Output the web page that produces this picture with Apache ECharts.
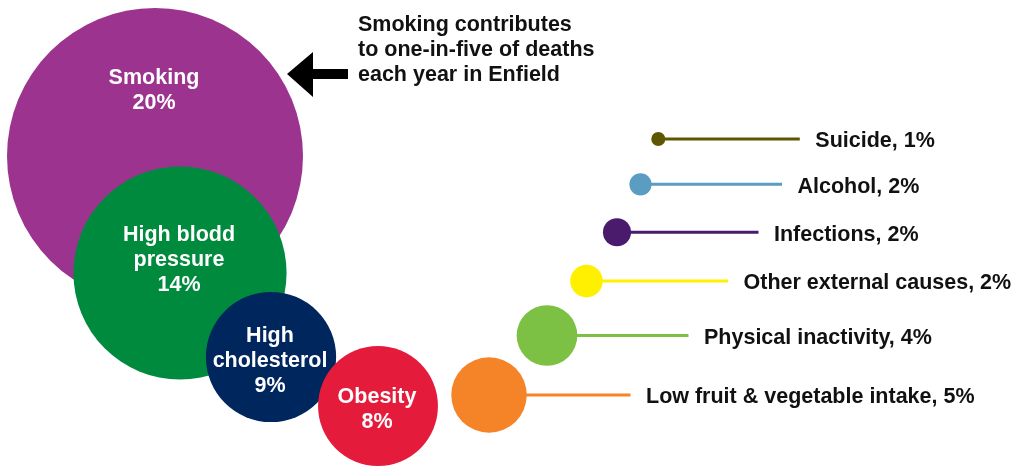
<!DOCTYPE html>
<html>
<head>
<meta charset="utf-8">
<script src="https://cdn.jsdelivr.net/npm/echarts@6/dist/echarts.min.js"></script>
<style>
html,body{margin:0;padding:0;background:#fff;}
#chart{width:1014px;height:467px;}
</style>
</head>
<body>
<div id="chart"></div>
<script>
// ---- data ----
const categories = ['Smoking', 'High blodd\npressure', 'High\ncholesterol', 'Obesity',
  'Low fruit & vegetable intake', 'Physical inactivity', 'Other external causes',
  'Infections', 'Alcohol', 'Suicide'];
const values = [20, 14.4, 8.8, 8.1, 5.1, 4.1, 2.2, 1.9, 1.5, 0.95]; // % of deaths
const annotation = 'Smoking contributes\nto one-in-five of deaths\neach year in Enfield';

// ---- layout & style (kept apart from data) ----
const colors = ['#9C348F', '#008A3E', '#00265E', '#E41B3A', '#F58428',
  '#7CC143', '#FFEF00', '#4A1A6C', '#5B9CC1', '#5E5700'];
const layoutX = [155, 180, 271, 378, 489, 547, 586.5, 617, 640.5, 658.3];
const layoutY = [156, 273, 357, 406, 395, 335.5, 281, 232.3, 184.3, 139];
const innerLabel = [true, true, true, true, false, false, false, false, false, false];
const innerLabelDy = [-65, -13, 4, 4, 0, 0, 0, 0, 0, 0];
const radiusPerPercent = 7.4;
const connectorLen = 141.5;
const labelGap = 157;
const FS = 21.5;
const FONT = "'Liberation Sans', Arial, Helvetica, sans-serif";

const bubbleData = categories.map((c, i) => ({
  name: c,
  value: [layoutX[i], layoutY[i], values[i]],
  itemStyle: { color: colors[i], opacity: 1 },
  label: innerLabel[i] ? { show: true, offset: [-1, innerLabelDy[i]] } : { show: false }
}));
const outerData = categories.map((c, i) => ({ name: c, value: [layoutX[i], layoutY[i], values[i]], color: colors[i] }))
  .filter((d, i) => !innerLabel[i]);

const chart = echarts.init(document.getElementById('chart'), null, { renderer: 'canvas' });
chart.setOption({
  animation: false,
  backgroundColor: '#fff',
  title: {
    text: annotation, left: 358, top: 12.5, padding: 0,
    textStyle: { fontFamily: FONT, fontSize: FS, fontWeight: 'bold', color: '#111', lineHeight: 25 }
  },
  grid: { left: 0, right: 0, top: 0, bottom: 0 },
  xAxis: { type: 'value', min: 0, max: 1014, show: false },
  yAxis: { type: 'value', min: 0, max: 467, inverse: true, show: false },
  graphic: [{
    type: 'polygon', z: 10,
    shape: { points: [[287, 74], [313, 52], [313, 69], [348, 69], [348, 79], [313, 79], [313, 97]] },
    style: { fill: '#000' }
  }],
  series: [
    {
      type: 'custom', z: 1, silent: true,
      data: outerData.map(d => ({ name: d.name, value: d.value, itemStyle: { color: d.color } })),
      renderItem: function (params, api) {
        const p = api.coord([api.value(0), api.value(1)]);
        const d = outerData[params.dataIndex];
        return {
          type: 'group',
          children: [
            { type: 'line', shape: { x1: p[0], y1: p[1], x2: p[0] + connectorLen, y2: p[1] },
              style: { stroke: d.color, lineWidth: 3 } },
            { type: 'text', x: p[0] + labelGap, y: p[1] + 2.5,
              style: { text: d.name + ', ' + Math.round(d.value[2]) + '%', fill: '#111',
                font: 'bold ' + FS + 'px ' + FONT, textVerticalAlign: 'middle', textAlign: 'left' } }
          ]
        };
      }
    },
    {
      type: 'scatter', z: 3, silent: true,
      symbol: 'circle',
      symbolSize: v => 2 * radiusPerPercent * v[2],
      data: bubbleData,
      itemStyle: { opacity: 1 },
      label: {
        position: 'inside', color: '#fff', fontFamily: FONT, fontSize: FS, fontWeight: 'bold',
        lineHeight: 25, align: 'center',
        formatter: p => p.name + '\n' + Math.round(p.value[2]) + '%'
      },
      emphasis: { disabled: true }
    }
  ]
});
</script>
</body>
</html>
